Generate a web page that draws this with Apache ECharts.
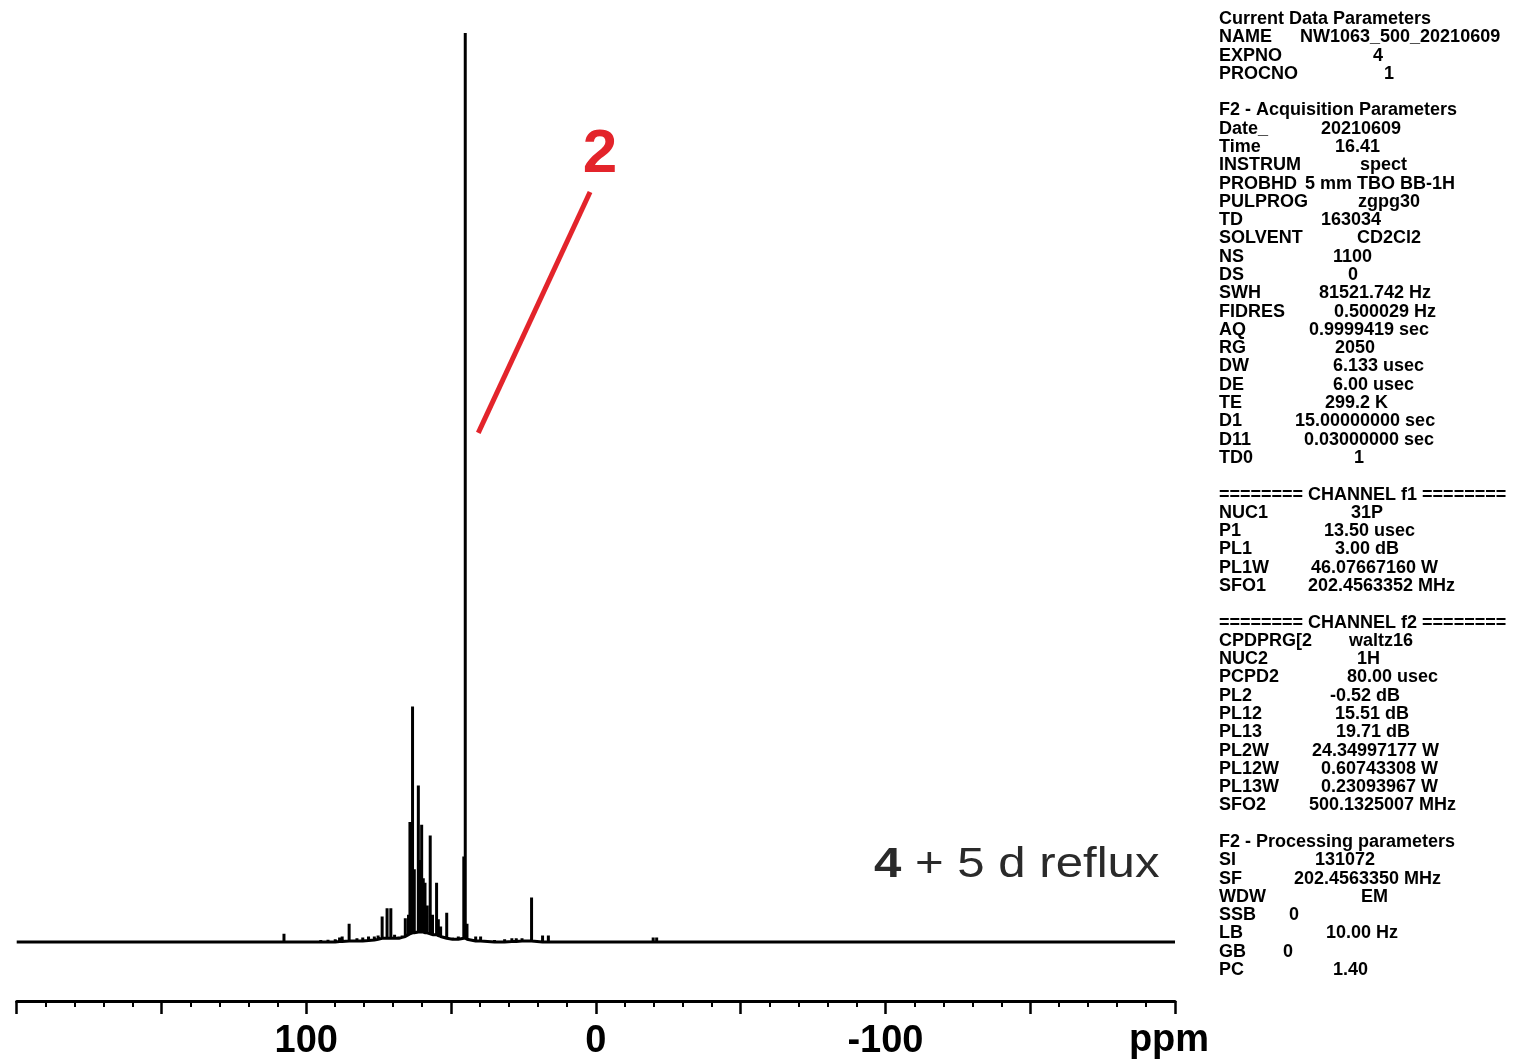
<!DOCTYPE html>
<html>
<head>
<meta charset="utf-8">
<title>31P NMR – 4 + 5 d reflux</title>
<script src="https://cdn.jsdelivr.net/npm/echarts@6/dist/echarts.min.js"></script>
<style>
  html, body { margin: 0; padding: 0; background: #fff; }
  #chart { width: 1513px; height: 1061px; }
</style>
</head>
<body>
<div id="chart"></div>
<script>
// ---- spectrum: resonances as [ppm, top intensity, local baseline] ----
const peakPpm = [
  107.7, 95.0, 92.5, 90.0, 88.5, 87.6, 85.2, 82.5, 80.5, 78.5, 76.5, 75.2,
  73.8, 72.1, 70.8, 69.5, 68.0, 66.9, 65.8, 64.7, 64.2, 63.3, 62.7, 61.3,
  60.8, 60.15, 59.6, 59.0, 58.3, 57.2, 56.4, 55.0, 54.4, 53.6, 51.5, 49.5,
  47.5, 45.6, 45.1, 44.5, 41.5, 39.8, 35.0, 31.5, 29.0, 27.5, 25.5, 22.2,
  18.4, 16.4, 12.0, 6.0, -4.0, -12.0, -15.5, -19.8, -21.0, -30.0
];
const peakTop = [
  0.9, 0.2, 0.25, 0.3, 0.5, 0.6, 2.0, 0.4, 0.5, 0.6, 0.6, 0.7,
  2.8, 3.7, 3.7, 0.8, 0.6, 0.7, 2.6, 3.0, 13.2, 25.9, 8.0, 17.2,
  9.0, 12.9, 7.0, 6.5, 4.0, 11.7, 3.0, 6.5, 2.5, 1.7, 3.2, 0.5,
  0.6, 9.4, 100, 2.0, 0.6, 0.6, 0.2, 0.3, 0.4, 0.4, 0.4, 4.9,
  0.7, 0.7, 0.15, 0.1, 0.1, 0.12, 0.15, 0.5, 0.5, 0.1
];
const peakFoot = [
  0, 0, 0, 0, 0.05, 0.05, 0.1, 0.1, 0.1, 0.15, 0.2, 0.3,
  0.4, 0.4, 0.4, 0.4, 0.4, 0.5, 0.6, 0.8, 0.9, 1.0, 1.0, 1.1,
  1.1, 1.1, 1.1, 1.0, 1.0, 0.9, 0.8, 0.8, 0.7, 0.6, 0.4, 0.3,
  0.3, 0.4, 0.4, 0.3, 0.1, 0.1, 0, 0, 0.05, 0.05, 0.1, 0.1,
  0, 0, 0, 0, 0, 0, 0, 0, 0, 0
];

// axis ticks: labelled positions only
const axisLabelPpm = [100, 0, -100];

// annotation for compound 2 (data coordinates)
const annotLine = [[40.6, 56.0], [2.0, 82.5]];
const annotLabel = '2';
const annotLabelAt = [-1.4, 86.6];

const sampleNote = ['4', ' + 5 d reflux'];

// ---- acquisition / processing parameter listing ----
const paramKeys = [
  'Current Data Parameters', 'NAME', 'EXPNO', 'PROCNO', '',
  'F2 - Acquisition Parameters', 'Date_', 'Time', 'INSTRUM', 'PROBHD', 'PULPROG',
  'TD', 'SOLVENT', 'NS', 'DS', 'SWH', 'FIDRES', 'AQ', 'RG', 'DW', 'DE', 'TE',
  'D1', 'D11', 'TD0', '',
  '======== CHANNEL f1 ========', 'NUC1', 'P1', 'PL1', 'PL1W', 'SFO1', '',
  '======== CHANNEL f2 ========', 'CPDPRG[2', 'NUC2', 'PCPD2', 'PL2', 'PL12',
  'PL13', 'PL2W', 'PL12W', 'PL13W', 'SFO2', '',
  'F2 - Processing parameters', 'SI', 'SF', 'WDW', 'SSB', 'LB', 'GB', 'PC'
];
const paramValues = [
  '', 'NW1063_500_20210609', '4', '1', '',
  '', '20210609', '16.41', 'spect', '5 mm TBO BB-1H', 'zgpg30',
  '163034', 'CD2Cl2', '1100', '0', '81521.742 Hz', '0.500029 Hz', '0.9999419 sec',
  '2050', '6.133 usec', '6.00 usec', '299.2 K',
  '15.00000000 sec', '0.03000000 sec', '1', '',
  '', '31P', '13.50 usec', '3.00 dB', '46.07667160 W', '202.4563352 MHz', '',
  '', 'waltz16', '1H', '80.00 usec', '-0.52 dB', '15.51 dB',
  '19.71 dB', '24.34997177 W', '0.60743308 W', '0.23093967 W', '500.1325007 MHz', '',
  '', '131072', '202.4563350 MHz', 'EM', '0', '10.00 Hz', '0', '1.40'
];
// left edge of each value column entry (px)
const paramValueX = [
  0, 1300, 1373, 1384, 0,
  0, 1321, 1335, 1360, 1305, 1358,
  1321, 1357, 1333, 1348, 1319, 1334, 1309, 1335, 1333, 1333, 1325,
  1295, 1304, 1354, 0,
  0, 1351, 1324, 1335, 1311, 1308, 0,
  0, 1349, 1357, 1347, 1330, 1335,
  1336, 1312, 1321, 1321, 1309, 0,
  0, 1315, 1294, 1361, 1289, 1326, 1283, 1333
];

// ---- build the trace: baseline joined through each resonance ----
const trace = [[200, 0]];
peakPpm.forEach((p, i) => {
  trace.push([p, peakFoot[i]], [p, peakTop[i]], [p, peakFoot[i]]);
});
trace.push([-200, 0]);

const chart = echarts.init(document.getElementById('chart'), null, { renderer: 'canvas' });

const font = '"Liberation Sans", Arial, Helvetica, sans-serif';
const paramGraphics = [];
const rowTop = 19, rowStep = 18.29;
paramKeys.forEach((k, i) => {
  const y = rowTop + i * rowStep;
  if (k) {
    paramGraphics.push({
      type: 'text', x: 1219, y: y, silent: true,
      style: { text: k, font: 'bold 18px ' + font, fill: '#000', textAlign: 'left', textVerticalAlign: 'middle' }
    });
  }
  if (paramValues[i]) {
    paramGraphics.push({
      type: 'text', x: paramValueX[i], y: y, silent: true,
      style: { text: paramValues[i], font: 'bold 18px ' + font, fill: '#000', textAlign: 'left', textVerticalAlign: 'middle' }
    });
  }
});

const option = {
  animation: false,
  backgroundColor: '#fff',
  grid: { left: 16.7, right: 338, top: 33, bottom: 60 },
  xAxis: {
    type: 'value',
    inverse: true,
    min: -200, max: 200, interval: 50,
    axisLine: { onZero: false, lineStyle: { color: '#000', width: 3 } },
    axisTick: { length: 13, lineStyle: { color: '#000', width: 2.5 } },
    minorTick: { show: true, splitNumber: 5, length: 6, lineStyle: { color: '#000', width: 2 } },
    splitLine: { show: false },
    minorSplitLine: { show: false },
    axisLabel: {
      margin: 22,
      fontSize: 38, fontWeight: 'bold', fontFamily: font, color: '#000',
      formatter: v => axisLabelPpm.indexOf(v) >= 0 ? String(v) : ''
    }
  },
  yAxis: { type: 'value', show: false, min: -6.5, max: 100 },
  series: [{
    // straight polyline through the trace points
    type: 'lines',
    coordinateSystem: 'cartesian2d',
    polyline: true,
    silent: true,
    data: [{ coords: trace }],
    lineStyle: { color: '#000', width: 3, opacity: 1, curveness: 0, join: 'bevel' },
    markLine: {
      silent: true,
      symbol: ['none', 'none'],
      label: { show: false },
      lineStyle: { color: '#e3242b', width: 5, type: 'solid', opacity: 1 },
      data: [[{ coord: annotLine[0] }, { coord: annotLine[1] }]]
    },
    markPoint: {
      silent: true,
      symbol: 'circle', symbolSize: 0,
      label: {
        show: true, position: 'inside', formatter: annotLabel,
        fontSize: 62, fontWeight: 'bold', fontFamily: font, color: '#e3242b'
      },
      data: [{ coord: annotLabelAt }]
    }
  }],
  graphic: [
    {
      type: 'text', x: 1169, y: 1041, silent: true,
      style: { text: 'ppm', font: 'bold 38px ' + font, fill: '#000', textAlign: 'center', textVerticalAlign: 'middle' }
    },
    {
      type: 'text', x: 874, y: 865, scaleX: 1.17, silent: true,
      style: {
        text: '{b|' + sampleNote[0] + '}{n|' + sampleNote[1] + '}',
        textAlign: 'left', textVerticalAlign: 'middle',
        rich: {
          b: { font: 'bold 42px ' + font, fill: '#2a2a2a' },
          n: { font: '42px ' + font, fill: '#2a2a2a' }
        }
      }
    }
  ].concat(paramGraphics)
};

chart.setOption(option);
</script>
</body>
</html>
